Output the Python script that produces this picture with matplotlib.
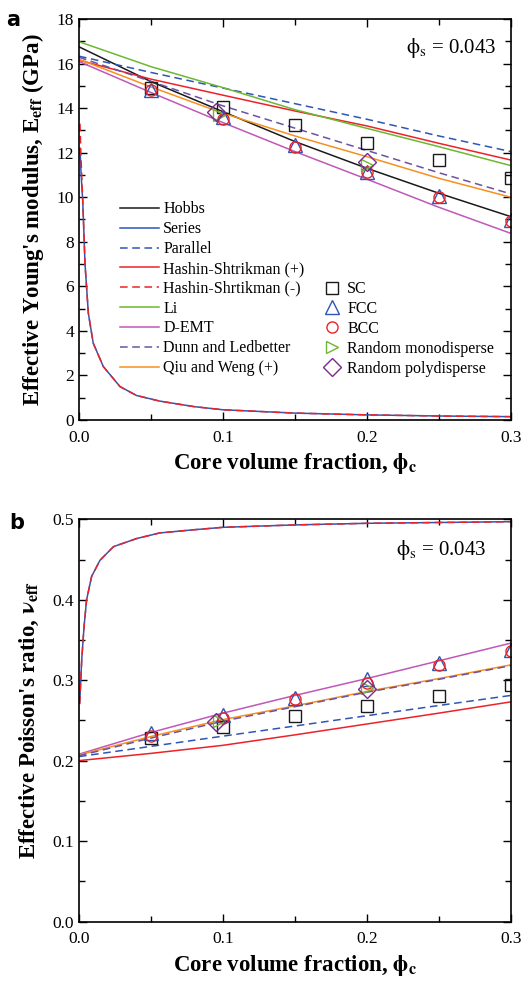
import matplotlib
matplotlib.use('Agg')
import matplotlib.pyplot as plt
from matplotlib.ticker import MultipleLocator

plt.rcParams['font.family'] = ['Liberation Serif', 'DejaVu Serif']
plt.rcParams['mathtext.fontset'] = 'stix'

# ---- panel a: effective Young's modulus ----
phi = [0.0, 0.05, 0.1, 0.15, 0.2, 0.25, 0.3]
hobbs_E = [16.75, 15.19, 13.84, 12.5, 11.3, 10.18, 9.13]
parallel_E = [16.33, 15.6, 14.9, 14.2, 13.5, 12.75, 12.05]
hs_plus_E = [16.15, 15.3, 14.58, 13.87, 13.2, 12.42, 11.67]
li_E = [16.98, 15.86, 14.92, 13.93, 13.09, 12.27, 11.42]
demt_E = [16.09, 14.7, 13.35, 12.05, 10.81, 9.55, 8.38]
dunn_E = [16.28, 15.2, 14.1, 13.1, 12.1, 11.1, 10.15]
qiu_E = [16.19, 14.95, 13.77, 12.75, 11.82, 10.85, 10.0]

phi_low = [0.0007, 0.0015, 0.0026, 0.0042, 0.0065, 0.0099, 0.0169, 0.0285,
           0.04, 0.056, 0.08, 0.1, 0.15, 0.2, 0.25, 0.3]
series_E = [12.2, 11.0, 9.85, 7.0, 4.8, 3.45, 2.4, 1.5, 1.1, 0.85, 0.6, 0.46,
            0.31, 0.23, 0.18, 0.15]
hs_minus_E = [13.3, 11.6, 9.9, 7.0, 4.8, 3.45, 2.4, 1.5, 1.1, 0.85, 0.6, 0.46,
              0.31, 0.23, 0.18, 0.15]

phi_pts = [0.05, 0.1, 0.15, 0.2, 0.25, 0.3]
sc_E = [14.89, 14.04, 13.25, 12.42, 11.65, 10.85]
fcc_E = [14.79, 13.62, 12.35, 11.15, 10.05, 8.98]
bcc_E = [14.83, 13.51, 12.27, 11.12, 10.03, 8.95]
phi_mono = [0.097, 0.2]
mono_E = [13.69, 11.45]
phi_poly = [0.095, 0.2]
poly_E = [13.84, 11.57]

# ---- panel b: effective Poisson's ratio ----
parallel_nu = [0.205, 0.2177, 0.2304, 0.243, 0.2558, 0.2685, 0.281]
hs_plus_nu = [0.2, 0.209, 0.219, 0.232, 0.2455, 0.259, 0.273]
demt_nu = [0.208, 0.235, 0.259, 0.281, 0.302, 0.324, 0.346]
dunn_nu = [0.206, 0.228, 0.249, 0.267, 0.285, 0.301, 0.318]
qiu_nu = [0.207, 0.23, 0.251, 0.268, 0.286, 0.302, 0.319]

phi_low_nu = [0.0005, 0.0019, 0.0035, 0.0053, 0.0088, 0.0146, 0.024, 0.04,
              0.056, 0.08, 0.1, 0.15, 0.2, 0.25, 0.3]
series_nu = [0.271, 0.325, 0.366, 0.40, 0.429, 0.449, 0.466, 0.476, 0.483,
             0.487, 0.490, 0.493, 0.495, 0.496, 0.497]
hs_minus_nu = [0.271, 0.325, 0.366, 0.40, 0.429, 0.449, 0.466, 0.476, 0.483,
               0.487, 0.490, 0.493, 0.495, 0.496, 0.497]

sc_nu = [0.228, 0.242, 0.2555, 0.268, 0.2807, 0.294]
fcc_nu = [0.2343, 0.2567, 0.278, 0.3015, 0.3214, 0.3375]
bcc_nu = [0.2306, 0.253, 0.2766, 0.2965, 0.319, 0.3367]
mono_nu = [0.249, 0.29]
poly_nu = [0.248, 0.289]

c_black = '#1a1a1a'
c_blue = '#2f55b5'
c_red = '#ec2229'
c_green = '#6cb832'
c_mag = '#c157b9'
c_purple = '#6b52a3'
c_orange = '#f7901e'
c_dia = '#7a2a8c'
lw = 1.1
dash = (5, 3)

fig = plt.figure(figsize=(5.23, 9.82), dpi=100)
ax1 = fig.add_axes([0.151, 0.5723, 0.8254, 0.4084])
ax2 = fig.add_axes([0.151, 0.0616, 0.8254, 0.4096])

# panel a lines
l_hobbs, = ax1.plot(phi, hobbs_E, color=c_black, lw=lw, label='Hobbs')
l_series, = ax1.plot(phi_low, series_E, color=c_blue, lw=lw, label='Series')
l_par, = ax1.plot(phi, parallel_E, color=c_blue, lw=lw, dashes=dash, label='Parallel')
l_hsp, = ax1.plot(phi, hs_plus_E, color=c_red, lw=lw, label='Hashin-Shtrikman (+)')
l_hsm, = ax1.plot(phi_low, hs_minus_E, color=c_red, lw=lw, dashes=dash,
                  label='Hashin-Shrtikman (-)')
l_li, = ax1.plot(phi, li_E, color=c_green, lw=lw, label='Li')
l_demt, = ax1.plot(phi, demt_E, color=c_mag, lw=lw, label='D-EMT')
l_dunn, = ax1.plot(phi, dunn_E, color=c_purple, lw=lw, dashes=dash,
                   label='Dunn and Ledbetter')
l_qiu, = ax1.plot(phi, qiu_E, color=c_orange, lw=lw, label='Qiu and Weng (+)')

mk = dict(linestyle='none', markerfacecolor='none', markeredgewidth=1.0)
m_sc, = ax1.plot(phi_pts, sc_E, marker='s', ms=8.5, markeredgecolor=c_black, label='SC', **mk)
m_fcc, = ax1.plot(phi_pts, fcc_E, marker='^', ms=10, markeredgecolor=c_blue, label='FCC', **mk)
m_bcc, = ax1.plot(phi_pts, bcc_E, marker='o', ms=8, markeredgecolor=c_red, label='BCC', **mk)
m_mono, = ax1.plot(phi_mono, mono_E, marker='>', ms=9, markeredgecolor=c_green,
                   label='Random monodisperse', **mk)
m_poly, = ax1.plot(phi_poly, poly_E, marker='D', ms=9, markeredgecolor=c_dia,
                   label='Random polydisperse', **mk)

# panel b lines
ax2.plot(phi_low_nu, series_nu, color=c_blue, lw=lw)
ax2.plot(phi, parallel_nu, color=c_blue, lw=lw, dashes=dash)
ax2.plot(phi, hs_plus_nu, color=c_red, lw=lw)
ax2.plot(phi_low_nu, hs_minus_nu, color=c_red, lw=lw, dashes=dash)
ax2.plot(phi, demt_nu, color=c_mag, lw=lw)
ax2.plot(phi, qiu_nu, color=c_orange, lw=lw)
ax2.plot(phi, dunn_nu, color=c_purple, lw=lw, dashes=dash)
ax2.plot(phi_pts, sc_nu, marker='s', ms=8.5, markeredgecolor=c_black, **mk)
ax2.plot(phi_pts, fcc_nu, marker='^', ms=10, markeredgecolor=c_blue, **mk)
ax2.plot(phi_pts, bcc_nu, marker='o', ms=8, markeredgecolor=c_red, **mk)
ax2.plot(phi_mono, mono_nu, marker='>', ms=9, markeredgecolor=c_green, **mk)
ax2.plot(phi_poly, poly_nu, marker='D', ms=9, markeredgecolor=c_dia, **mk)

for ax in (ax1, ax2):
    ax.set_xlim(0, 0.3)
    ax.xaxis.set_major_locator(MultipleLocator(0.1))
    ax.xaxis.set_minor_locator(MultipleLocator(0.05))
    ax.tick_params(which='both', direction='in', top=True, right=True,
                   labelsize=12.5, width=1.0)
    ax.tick_params(which='major', length=6)
    ax.tick_params(which='minor', length=4)
    ax.tick_params(axis='x', pad=7)
    for s in ax.spines.values():
        s.set_linewidth(1.2)
    ax.set_xlabel(r'Core volume fraction, $\mathbf{\phi_{c}}$',
                  fontsize=16.5, fontweight='bold', labelpad=4)
    ax.xaxis.set_major_formatter(plt.FuncFormatter(lambda v, p: f'{v:.1f}'))

ax1.set_ylim(0, 18)
ax1.yaxis.set_major_locator(MultipleLocator(2))
ax1.yaxis.set_minor_locator(MultipleLocator(1))
ax1.set_ylabel(r"Effective Young's modulus, E$_{\mathbf{eff}}$ (GPa)",
               fontsize=16.5, fontweight='bold', labelpad=8)

ax2.set_ylim(0, 0.5)
ax2.yaxis.set_major_locator(MultipleLocator(0.1))
ax2.yaxis.set_minor_locator(MultipleLocator(0.05))
ax2.yaxis.set_major_formatter(plt.FuncFormatter(lambda v, p: f'{v:.1f}'))
ax2.set_ylabel(r"Effective Poisson's ratio, $\mathbf{\nu_{eff}}$",
               fontsize=16.5, fontweight='bold', labelpad=8)

ax1.text(0.968, 0.927, r'$\mathrm{\phi_{s}}$ = 0.043', transform=ax1.transAxes,
         ha='right', va='center', fontsize=15)
ax2.text(0.944, 0.924, r'$\mathrm{\phi_{s}}$ = 0.043', transform=ax2.transAxes,
         ha='right', va='center', fontsize=15)

leg1 = ax1.legend(handles=[l_hobbs, l_series, l_par, l_hsp, l_hsm, l_li,
                           l_demt, l_dunn, l_qiu],
                  loc='upper left', bbox_to_anchor=(0.095, 0.545),
                  frameon=False, fontsize=11.5, handlelength=2.45,
                  handletextpad=0.25, labelspacing=0.24, borderpad=0,
                  borderaxespad=0)
ax1.add_artist(leg1)
ax1.legend(handles=[m_sc, m_fcc, m_bcc, m_mono, m_poly],
           loc='upper left', bbox_to_anchor=(0.568, 0.346),
           frameon=False, fontsize=11.5, handlelength=1.0,
           handletextpad=0.45, labelspacing=0.24, borderpad=0,
           borderaxespad=0)

fig.text(0.012, 0.99, 'a', fontsize=15, fontweight='bold', family='DejaVu Sans',
         va='top')
fig.text(0.018, 0.478, 'b', fontsize=15, fontweight='bold', family='DejaVu Sans',
         va='top')

fig.savefig('out.png', dpi=100)
